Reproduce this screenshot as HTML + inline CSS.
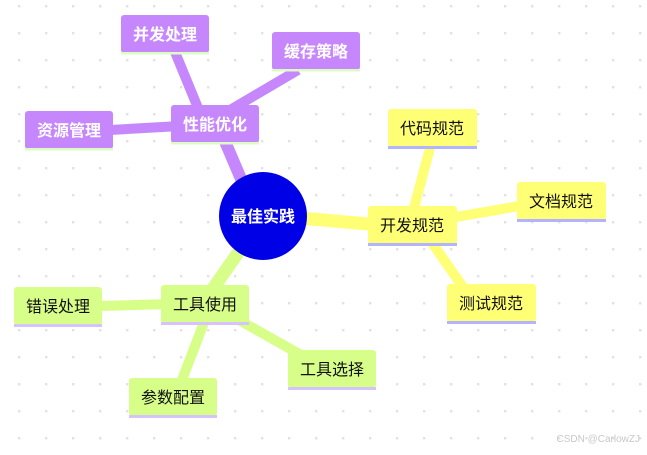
<!DOCTYPE html>
<html><head><meta charset="utf-8"><style>
html,body{margin:0;padding:0;background:#fff;}
svg text{font-family:"Liberation Sans","Noto Sans CJK SC",sans-serif;}
</style></head><body>
<svg width="647" height="450" viewBox="0 0 647 450" xmlns="http://www.w3.org/2000/svg">
<defs>
<pattern id="dots" x="18" y="5" width="27" height="27" patternUnits="userSpaceOnUse">
<rect x="0" y="0" width="2.4" height="2.4" fill="#e2e2e2"/>
</pattern>
</defs>
<rect width="647" height="450" fill="url(#dots)"/>
<g stroke-linecap="butt" fill="none">
<line x1="250" y1="200" x2="218" y2="125" stroke="#c587fb" stroke-width="12"/>
<line x1="205" y1="125" x2="175" y2="52" stroke="#c587fb" stroke-width="10"/>
<line x1="230" y1="110" x2="298" y2="70" stroke="#c587fb" stroke-width="10"/>
<line x1="110" y1="130" x2="180" y2="126" stroke="#c587fb" stroke-width="10"/>
<line x1="300" y1="218" x2="380" y2="225" stroke="#ffff76" stroke-width="13"/>
<line x1="412" y1="215" x2="430" y2="148" stroke="#ffff76" stroke-width="10"/>
<line x1="450" y1="218" x2="525" y2="205" stroke="#ffff76" stroke-width="10"/>
<line x1="430" y1="240" x2="465" y2="290" stroke="#ffff76" stroke-width="10"/>
<line x1="240" y1="250" x2="205" y2="300" stroke="#d8fe8a" stroke-width="13"/>
<line x1="100" y1="306" x2="170" y2="304" stroke="#d8fe8a" stroke-width="10"/>
<line x1="205" y1="320" x2="180" y2="385" stroke="#d8fe8a" stroke-width="10"/>
<line x1="230" y1="315" x2="310" y2="360" stroke="#d8fe8a" stroke-width="10"/>
</g>
<g font-size="16" text-anchor="middle">
<g fill="#c587fb">
<rect x="121" y="15" width="88" height="38" rx="3"/>
<rect x="272" y="32" width="88" height="38" rx="3"/>
<rect x="25" y="111" width="88" height="38" rx="3"/>
<rect x="171" y="105" width="88" height="38" rx="3"/>
</g>
<g fill="#dcfcc4">
<rect x="121" y="52" width="88" height="2.5"/>
<rect x="272" y="69" width="88" height="2.5"/>
<rect x="25" y="148" width="88" height="2.5"/>
<rect x="171" y="142" width="88" height="2.5"/>
</g>
<g fill="#fff" font-weight="bold">
<text x="165" y="40">并发处理</text>
<text x="316" y="57">缓存策略</text>
<text x="69" y="136">资源管理</text>
<text x="215" y="130">性能优化</text>
</g>
<g fill="#ffff76">
<rect x="368" y="206" width="89" height="38" rx="3"/>
<rect x="388" y="109" width="89" height="38" rx="3"/>
<rect x="517" y="182" width="89" height="38" rx="3"/>
<rect x="447" y="284" width="89" height="38" rx="3"/>
</g>
<g fill="#b3b3ff">
<rect x="368" y="243" width="89" height="3"/>
<rect x="388" y="146" width="89" height="3"/>
<rect x="517" y="219" width="89" height="3"/>
<rect x="447" y="321" width="89" height="3"/>
</g>
<g fill="#111">
<text x="412" y="231">开发规范</text>
<text x="432" y="134">代码规范</text>
<text x="561" y="207">文档规范</text>
<text x="491" y="309">测试规范</text>
</g>
<g fill="#d8fe8a">
<rect x="161" y="285" width="88" height="38" rx="3"/>
<rect x="14" y="287" width="88" height="38" rx="3"/>
<rect x="129" y="378" width="88" height="38" rx="3"/>
<rect x="288" y="350" width="88" height="38" rx="3"/>
</g>
<g fill="#d6c2fc">
<rect x="161" y="322" width="88" height="3"/>
<rect x="14" y="324" width="88" height="3"/>
<rect x="129" y="415" width="88" height="3"/>
<rect x="288" y="387" width="88" height="3"/>
</g>
<g fill="#111">
<text x="205" y="310">工具使用</text>
<text x="58" y="312">错误处理</text>
<text x="173" y="403">参数配置</text>
<text x="332" y="375">工具选择</text>
</g>
<circle cx="263" cy="216" r="44" fill="#0000e6"/>
<text x="263" y="222" fill="#fff" font-size="16" font-weight="bold">最佳实践</text>
</g>
<text x="640" y="442" text-anchor="end" font-size="10" fill="#c8c8c8">CSDN @CarlowZJ</text>
</svg>
</body></html>
